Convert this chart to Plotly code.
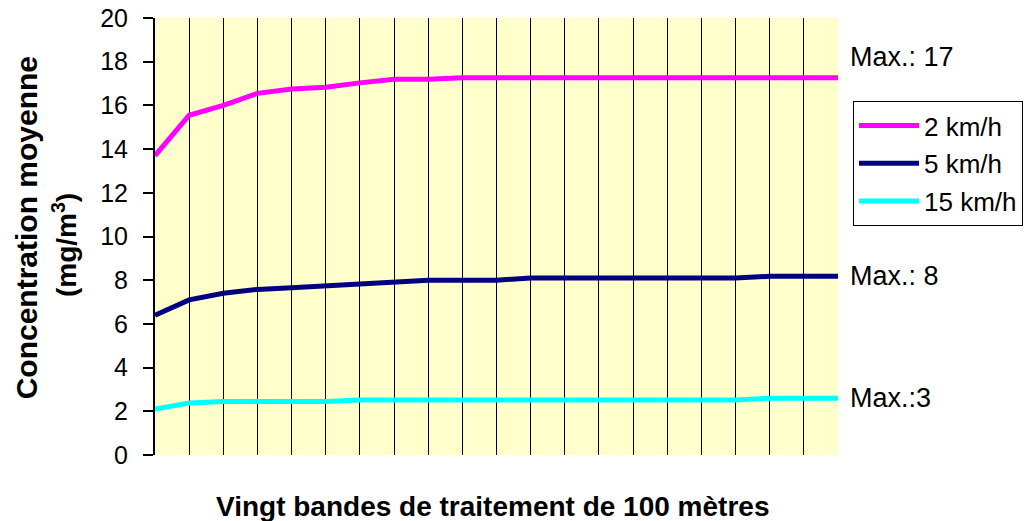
import plotly.graph_objects as go

bands = list(range(0, 21))
v_2kmh = [13.7, 15.55, 16.0, 16.55, 16.75, 16.83, 17.03, 17.2, 17.2, 17.27, 17.27,
          17.27, 17.27, 17.27, 17.27, 17.27, 17.27, 17.27, 17.27, 17.27, 17.27]
v_5kmh = [6.4, 7.1, 7.4, 7.58, 7.66, 7.74, 7.83, 7.92, 8.0, 8.0, 8.0,
          8.1, 8.1, 8.1, 8.1, 8.1, 8.1, 8.1, 8.18, 8.18, 8.18]
v_15kmh = [2.1, 2.38, 2.45, 2.45, 2.45, 2.45, 2.52, 2.52, 2.52, 2.52, 2.52,
           2.52, 2.52, 2.52, 2.52, 2.52, 2.52, 2.52, 2.6, 2.6, 2.6]
series_names = ["2 km/h", "5 km/h", "15 km/h"]
series_colors = ["#FF00FF", "#000080", "#00FFFF"]
max_labels = ["Max.: 17", "Max.: 8", "Max.:3"]
max_label_y = [18.2, 8.2, 2.6]
y_ticks = list(range(0, 21, 2))

FONT = "Liberation Sans"

fig = go.Figure()
for name, vals, col in zip(series_names, [v_2kmh, v_5kmh, v_15kmh], series_colors):
    fig.add_trace(go.Scatter(x=bands, y=vals, mode="lines", name=name,
                             legendgroup=name,
                             line=dict(color=col, width=5)))

for txt, yv in zip(max_labels, max_label_y):
    fig.add_annotation(x=1.014, xref="paper", y=yv, yref="y", text=txt,
                       showarrow=False, xanchor="left", yanchor="middle",
                       font=dict(size=27, color="black", family=FONT))

# y title (two lines, rotated)
fig.add_annotation(x=-0.188, xref="paper", y=0.52, yref="paper",
                   text="<b>Concentration moyenne</b>", textangle=-90,
                   showarrow=False, xanchor="center", yanchor="middle",
                   font=dict(size=30, color="black", family=FONT))
fig.add_annotation(x=-0.132, xref="paper", y=0.48, yref="paper",
                   text="<b>(mg/m<sup>3</sup>)</b>", textangle=-90,
                   showarrow=False, xanchor="center", yanchor="middle",
                   font=dict(size=28, color="black", family=FONT))
# x title
fig.add_annotation(x=0.494, xref="paper", y=-0.117, yref="paper",
                   text="<b>Vingt bandes de traitement de 100 mètres</b>",
                   showarrow=False, xanchor="center", yanchor="middle",
                   font=dict(size=28, color="black", family=FONT))

fig.update_layout(
    width=1026, height=521,
    margin=dict(l=155, r=188, t=18, b=66, autoexpand=False),
    paper_bgcolor="white", plot_bgcolor="#FFFFCC",
    font=dict(family=FONT, size=25, color="black"),
    showlegend=True,
    legend=dict(x=1.022, y=0.81, xanchor="left", yanchor="top",
                bordercolor="black", borderwidth=1, bgcolor="white",
                tracegroupgap=1, itemwidth=60, font=dict(size=26, family=FONT)),
    xaxis=dict(range=[0, 20], dtick=1, tick0=0, showgrid=True, gridcolor="black",
               gridwidth=1, showticklabels=False, ticks="", zeroline=False,
               showline=False, automargin=False),
    yaxis=dict(range=[0, 20], tickvals=y_ticks, ticks="outside", ticklen=10,
               tickwidth=2, tickcolor="black", showline=True, linecolor="black",
               linewidth=2, showgrid=False, zeroline=False, ticklabelstandoff=10,
               automargin=False, tickfont=dict(size=25, family=FONT)),
)

fig.write_html("out.html", config={"displayModeBar": False},
               post_script="document.body.style.margin='0';document.body.style.overflow='hidden';")
